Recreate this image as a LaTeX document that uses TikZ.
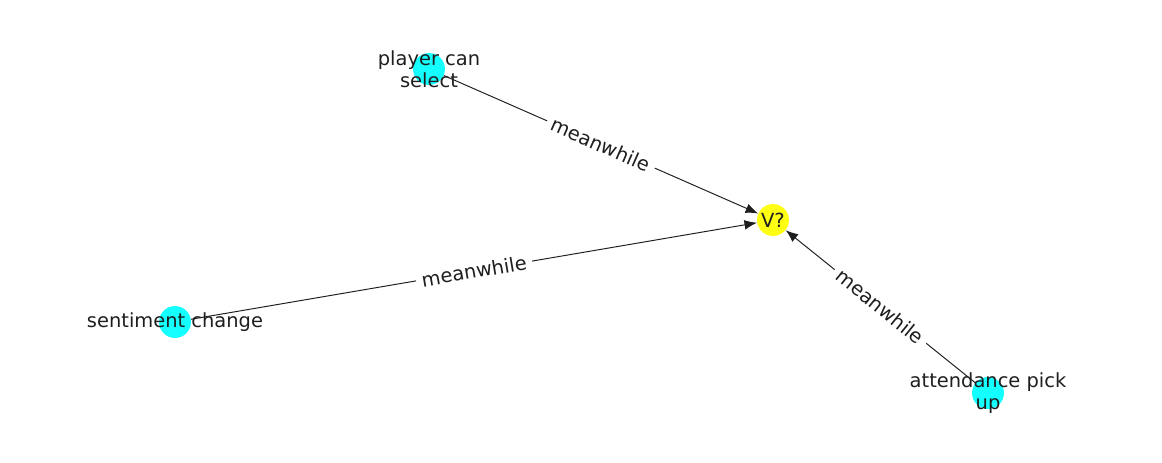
\documentclass[tikz,border=0pt]{standalone}
\usepackage{fontspec}
\setmainfont{DejaVu Sans}
\usetikzlibrary{arrows.meta}
\definecolor{nodecyan}{RGB}{0,255,255}
\definecolor{nodeyellow}{RGB}{255,255,0}
\definecolor{ink}{RGB}{30,30,30}
\begin{document}
\begin{tikzpicture}[x=0.72pt,y=-0.72pt,
  dot/.style={circle,minimum size=23pt,inner sep=0pt},
  src/.style={dot,fill=nodecyan,fill opacity=0.92},
  tgt/.style={dot,fill=nodeyellow,fill opacity=0.92},
  lbl/.style={font=\fontsize{14}{15.5}\selectfont,align=center,text=ink},
  edge/.style={-{Latex[length=9pt,width=7pt]},draw=ink,line width=0.7pt},
  elbl/.style={midway,sloped,fill=white,inner sep=4pt,font=\fontsize{14}{15}\selectfont,text=ink}]
\useasboundingbox (0,0) rectangle (1162,462);
\node[src] (a) at (429,69) {};
\node[tgt] (v) at (773,220) {};
\node[src] (s) at (175,322) {};
\node[src] (t) at (988,393) {};
\draw[edge] (a) -- (v) node[elbl] {meanwhile};
\draw[edge] (s) -- (v) node[elbl] {meanwhile};
\draw[edge] (t) -- (v) node[elbl] {meanwhile};
\node[lbl] (al) at (a) {player can\\select};
\node[lbl] (vl) at (v) {V?};
\node[lbl] (sl) at (s) {sentiment change};
\node[lbl] (tl) at (t) {attendance pick\\up};
\end{tikzpicture}
\end{document}
